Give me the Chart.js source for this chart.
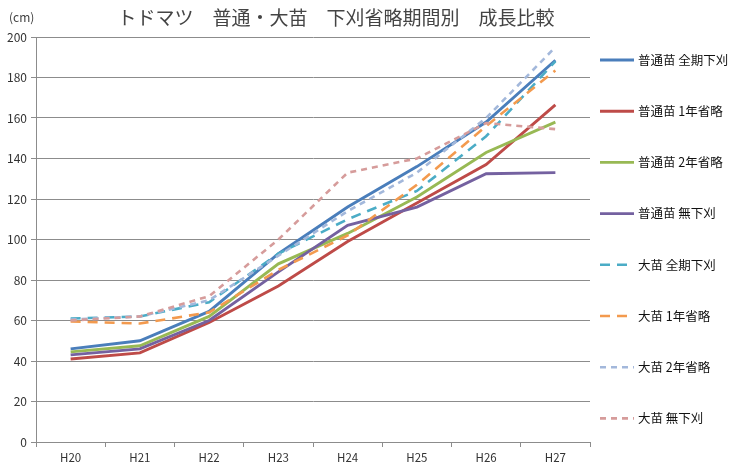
<!DOCTYPE html>
<html>
<head>
<meta charset="utf-8">
<script src="https://cdn.jsdelivr.net/npm/chart.js@4/dist/chart.umd.min.js"></script>
<style>
  html, body { margin: 0; padding: 0; background: #ffffff; }
  #wrap { width: 742px; height: 468px; }
</style>
</head>
<body>
<div id="wrap"><canvas id="growth" width="742" height="468"></canvas></div>
<script>
// 調査年度
const years = ['H20', 'H21', 'H22', 'H23', 'H24', 'H25', 'H26', 'H27'];

// 普通苗 樹高 (cm)
const futsuZenki = [46, 50, 64.5, 93, 116, 136, 158, 188.5];
const futsu1nen  = [41, 44, 59, 77, 99, 118, 137, 166.5];
const futsu2nen  = [44.5, 47.5, 62, 88, 103, 121, 143, 158];
const futsuNashi = [43, 46, 60, 84, 107, 116, 132.5, 133];

// 大苗 樹高 (cm)
const ooZenki = [61, 62, 69, 93, 110, 124, 151, 188];
const oo1nen  = [59.5, 58.5, 64, 85, 102, 127, 156, 183.5];
const oo2nen  = [60.5, 62, 70, 92, 114, 133, 160, 195];
const ooNashi = [60, 62, 72, 100, 133, 140, 157.5, 154.5];

// 凡例名
const seriesNames = [
  '普通苗 全期下刈', '普通苗 1年省略', '普通苗 2年省略', '普通苗 無下刈',
  '大苗 全期下刈', '大苗 1年省略', '大苗 2年省略', '大苗 無下刈'
];

const yTicks = { min: 0, max: 200, step: 20 };

const FONT = '"Noto Sans CJK JP", "Noto Sans", sans-serif';
const GRID = '#8c8c8c';

const LONG_DASH = [10, 7];
const SHORT_DASH = [6, 5];

const styles = [
  { color: '#4A7EBB', dash: [] },
  { color: '#BE4B48', dash: [] },
  { color: '#98B954', dash: [] },
  { color: '#7461A0', dash: [] },
  { color: '#4BACC6', dash: LONG_DASH },
  { color: '#F39A4E', dash: LONG_DASH },
  { color: '#A3B8DB', dash: SHORT_DASH },
  { color: '#D69C9B', dash: SHORT_DASH }
];

const values = [futsuZenki, futsu1nen, futsu2nen, futsuNashi, ooZenki, oo1nen, oo2nen, ooNashi];

const datasets = values.map((v, i) => ({
  label: seriesNames[i],
  data: v,
  borderColor: styles[i].color,
  backgroundColor: styles[i].color,
  borderDash: styles[i].dash,
  borderWidth: styles[i].dash.length ? 2.6 : 2.9,
  pointRadius: 0,
  pointHoverRadius: 0,
  tension: 0,
  fill: false,
  order: values.length - i   // later series drawn on top
}));

// タイトル・単位・凡例の描画
const decorations = {
  id: 'decorations',
  afterDraw(chart) {
    const ctx = chart.ctx;
    ctx.save();
    ctx.fillStyle = '#444444';
    ctx.font = '19px ' + FONT;
    ctx.textAlign = 'center';
    ctx.textBaseline = 'middle';
    ctx.fillText('トドマツ　普通・大苗　下刈省略期間別　成長比較', 336, 18);

    ctx.font = '12px ' + FONT;
    ctx.textAlign = 'left';
    ctx.fillStyle = '#404040';
    ctx.fillText('(cm)', 9, 17);

    // 凡例
    const x0 = 600, lineLen = 34, top = 60, gap = 51.2;
    chart.data.datasets.forEach((ds, i) => {
      const y = top + i * gap;
      ctx.beginPath();
      ctx.setLineDash(ds.borderDash || []);
      ctx.lineWidth = ds.borderWidth;
      ctx.strokeStyle = ds.borderColor;
      ctx.moveTo(x0, y);
      ctx.lineTo(x0 + lineLen, y);
      ctx.stroke();
      ctx.setLineDash([]);
      ctx.fillStyle = '#111111';
      ctx.font = '12.5px ' + FONT;
      ctx.textBaseline = 'middle';
      ctx.fillText(ds.label, x0 + lineLen + 4, y);
    });
    ctx.restore();
  }
};

new Chart(document.getElementById('growth'), {
  type: 'line',
  data: { labels: years, datasets },
  options: {
    responsive: false,
    devicePixelRatio: 1,
    animation: false,
    layout: { padding: { top: 37, right: 152, left: 0, bottom: 0 } },
    plugins: {
      legend: { display: false },
      title: { display: false },
      tooltip: { enabled: false }
    },
    scales: {
      x: {
        offset: true,
        grid: {
          offset: true,
          drawOnChartArea: false,
          drawTicks: true,
          tickLength: 5,
          color: GRID
        },
        border: { color: GRID, width: 1 },
        ticks: {
          color: '#333333',
          font: { family: FONT, size: 11.5 },
          padding: 4,
          maxRotation: 0
        },
        afterFit(scale) { scale.height = 26; }
      },
      y: {
        min: yTicks.min,
        max: yTicks.max,
        grid: {
          color: GRID,
          lineWidth: 1,
          drawTicks: true,
          tickLength: 5
        },
        border: { color: GRID, width: 1 },
        ticks: {
          stepSize: yTicks.step,
          color: '#333333',
          font: { family: FONT, size: 12 },
          padding: 4
        },
        afterFit(scale) { scale.width = 36; }
      }
    }
  },
  plugins: [decorations]
});
</script>
</body>
</html>
